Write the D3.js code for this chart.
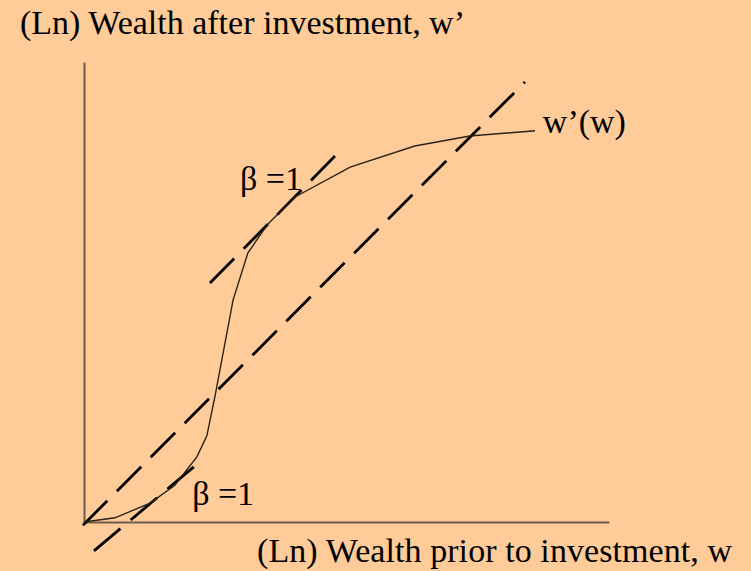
<!DOCTYPE html>
<html>
<head>
<meta charset="utf-8">
<script src="https://cdn.jsdelivr.net/npm/d3@7"></script>
<style>
  body { margin: 0; background: #FFCC99; }
  text { font-family: "Liberation Serif", "Times New Roman", serif; fill: #000; }
</style>
</head>
<body>
<div id="chart"></div>
<script>

// --> DATA (ln wealth units)
var curveW     = [0, 0.59, 1.26, 1.73, 2.15, 2.34, 2.50, 2.84, 3.12, 3.49, 4.02, 5.07, 6.30, 7.35, 8.59];
var curveWNext = [0, 0.08, 0.36, 0.70, 1.24, 1.64, 2.42, 4.23, 5.12, 5.66, 6.19, 6.76, 7.16, 7.35, 7.45];

// 45 degree line and the two beta = 1 tangents
var diagonal     = [[-0.02, -0.06], [8.40, 8.38]];
var upperTangent = [[2.40, 4.55], [4.78, 6.97]];
var lowerTangent = [[0.19, -0.55], [2.15, 1.10]];

// Annotations placed at data coordinates
var annotations = [
  { label: "\u03B2 =1", w: 2.97, wNext: 6.33 },
  { label: "\u03B2 =1", w: 2.06, wNext: 0.32 },
  { label: "w\u2019(w)", w: 8.74, wNext: 7.40 }
];

var xDomain = [0, 10];
var yDomain = [0, 8.76];

// --> CREATE SVG DRAWING AREA
var width = 751,
    height = 571;

var svg = d3.select("#chart").append("svg")
        .attr("width", width)
        .attr("height", height);

svg.append("rect")
        .attr("width", width)
        .attr("height", height)
        .attr("fill", "#FFCC99");

var x = d3.scaleLinear().domain(xDomain).range([84, 609]);
var y = d3.scaleLinear().domain(yDomain).range([522, 62]);

// Axes without ticks
var xAxis = d3.axisBottom(x).ticks(0).tickSizeOuter(0);
var yAxis = d3.axisLeft(y).ticks(0).tickSizeOuter(0);

svg.append("g")
        .attr("class", "axis")
        .attr("transform", "translate(0," + y(0) + ")")
        .call(xAxis);

svg.append("g")
        .attr("class", "axis")
        .attr("transform", "translate(" + x(0) + ",0)")
        .call(yAxis);

svg.selectAll(".axis path")
        .attr("stroke", "#6e5c4a")
        .attr("stroke-width", 2);

var line = d3.line()
        .x(function(d) { return x(d[0]); })
        .y(function(d) { return y(d[1]); });

// Dashed lines
[diagonal, upperTangent, lowerTangent].forEach(function(seg) {
  svg.append("path")
      .attr("d", line(seg))
      .attr("fill", "none")
      .attr("stroke", "#000")
      .attr("stroke-width", 2.8)
      .attr("stroke-dasharray", "34.5,13.5");
});

// w'(w) curve
var curvePoints = curveW.map(function(d, i) { return [d, curveWNext[i]]; });

svg.append("path")
        .attr("d", line(curvePoints))
        .attr("fill", "none")
        .attr("stroke", "#2a2218")
        .attr("stroke-width", 1.4);

// Annotations
svg.selectAll(".annot")
        .data(annotations)
        .enter().append("text")
        .attr("class", "annot")
        .attr("x", function(d) { return x(d.w); })
        .attr("y", function(d) { return y(d.wNext); })
        .attr("font-size", "34px")
        .text(function(d) { return d.label; });

// Axis titles
svg.append("text")
        .attr("x", 20)
        .attr("y", 34)
        .attr("font-size", "34px")
        .attr("textLength", 445)
        .attr("lengthAdjust", "spacing")
        .text("(Ln) Wealth after investment, w\u2019");

svg.append("text")
        .attr("x", 257)
        .attr("y", 562)
        .attr("font-size", "34px")
        .attr("textLength", 475)
        .attr("lengthAdjust", "spacing")
        .text("(Ln) Wealth prior to investment, w");

</script>
</body>
</html>
